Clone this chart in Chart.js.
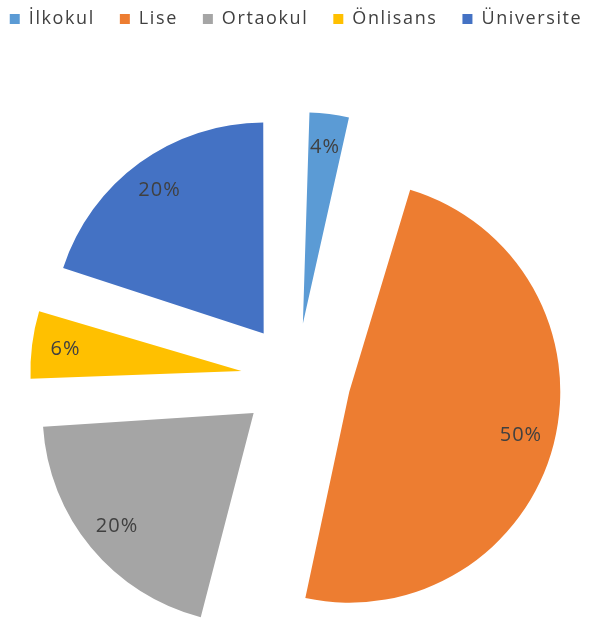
<!DOCTYPE html>
<html>
<head>
<meta charset="utf-8">
<script src="https://cdn.jsdelivr.net/npm/chart.js@4"></script>
<style>
  html, body { margin: 0; padding: 0; background: #fff; overflow: hidden; }
  /* taller than the window so the pie centre sits low, as in the picture */
  #wrap { width: 592px; height: 718px; position: relative; }
</style>
</head>
<body>
<div id="wrap"><canvas id="pie"></canvas></div>
<script>
const categories = ['İlkokul', 'Lise', 'Ortaokul', 'Önlisans', 'Üniversite'];
const shares = [4, 50, 20, 6, 20];
const sliceColors = ['#5B9BD5', '#ED7D31', '#A5A5A5', '#FFC000', '#4472C4'];

const PIE_R = 211;
const EXPLODE = 55;
const textColor = '#404040';
const fontFamily = '"Open Sans", sans-serif';

// legend text in the picture is set wide
const letterSpacing = {
  id: 'letterSpacing',
  beforeLayout(chart) { chart.ctx.letterSpacing = '1.6px'; },
  beforeDraw(chart) { chart.ctx.letterSpacing = '1.6px'; }
};

// Chart.js grows exploded slices by offset * (1 - sin(angle)); undo that so every slice keeps one radius
const evenRadius = {
  id: 'evenRadius',
  beforeDatasetsDraw(chart) {
    chart.getDatasetMeta(0).data.forEach((arc) => {
      const fix = 1 - Math.sin(Math.min(Math.PI, arc.circumference));
      arc.outerRadius = PIE_R - EXPLODE * fix;
    });
  }
};

const sliceLabels = {
  id: 'sliceLabels',
  afterDatasetsDraw(chart) {
    const ctx = chart.ctx;
    ctx.save();
    ctx.letterSpacing = '1px';
    ctx.font = '20px ' + fontFamily;
    ctx.fillStyle = textColor;
    ctx.textAlign = 'center';
    ctx.textBaseline = 'middle';
    chart.getDatasetMeta(0).data.forEach((arc, i) => {
      const mid = (arc.startAngle + arc.endAngle) / 2;
      const d = EXPLODE + PIE_R * 0.84;
      ctx.fillText(shares[i] + '%', arc.x + Math.cos(mid) * d, arc.y + Math.sin(mid) * d);
    });
    ctx.restore();
  }
};

new Chart(document.getElementById('pie'), {
  type: 'pie',
  data: {
    labels: categories,
    datasets: [{
      data: shares,
      backgroundColor: sliceColors,
      borderWidth: 0,
      offset: EXPLODE * 4,
      radius: PIE_R
    }]
  },
  options: {
    responsive: true,
    maintainAspectRatio: false,
    animation: false,
    // negative sides give the one-row legend room for wider gaps
    layout: { padding: { top: -15, left: -40, right: -40 } },
    plugins: {
      legend: {
        position: 'top',
        labels: {
          boxWidth: 10,
          boxHeight: 10,
          padding: 25,
          color: textColor,
          font: { family: fontFamily, size: 18 }
        }
      },
      tooltip: { enabled: false }
    }
  },
  plugins: [letterSpacing, evenRadius, sliceLabels]
});
</script>
</body>
</html>
